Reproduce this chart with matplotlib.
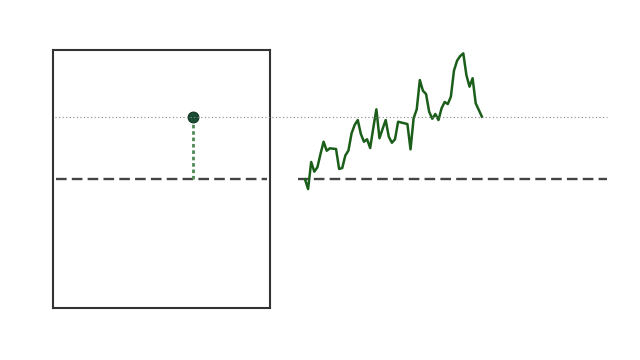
import matplotlib
matplotlib.use("Agg")
import matplotlib.pyplot as plt
from matplotlib.lines import Line2D
from matplotlib.transforms import blended_transform_factory

# Series values (percent change from baseline)
series_values = [
    -0.2, -7.8, 13.2, 5.7, 9.1, 19.4, 28.9, 21.9, 23.8, 23.5,
    23.3, 7.8, 8.5, 18.2, 22.1, 35.3, 41.9, 45.7, 34.9, 28.9,
    30.8, 24.0, 39.5, 54.0, 31.6, 38.8, 45.7, 32.8, 28.1, 30.8,
    44.4, 43.8, 43.2, 42.6, 23.0, 47.1, 54.0, 76.7, 68.4, 65.9,
    52.2, 46.7, 50.4, 45.7, 54.8, 59.7, 58.1, 63.8, 84.0, 91.7,
    95.3, 97.4, 80.6, 71.6, 78.1, 58.7, 53.5, 48.3,
]
time_index = list(range(len(series_values)))
baseline_value = [0.0]
point_x = [0.645]
point_value = [series_values[-1]]

fig = plt.figure(figsize=(6.4, 3.6), dpi=100)
fig.patch.set_facecolor("white")

ax_left = fig.add_axes([53 / 640, 52 / 360, 217 / 640, 258 / 360])
ax_right = fig.add_axes([298 / 640, 52 / 360, 309 / 640, 258 / 360], sharey=ax_left)

ylim = (-100, 100)
ax_left.set_ylim(*ylim)
ax_left.set_xlim(0, 1)

# Left panel
for sp in ax_left.spines.values():
    sp.set_color("#333333")
    sp.set_linewidth(1.5)
ax_left.set_xticks([])
ax_left.set_yticks([])
ax_left.axhline(baseline_value[0], xmin=3 / 217, xmax=1 - 3 / 217,
                color="#444444", lw=1.7, dashes=(4.5, 2.2))
ax_left.plot([point_x[0], point_x[0]], [baseline_value[0], point_value[0]],
             color="#4f8a55", lw=2.0, dashes=(1.3, 1.0))
ax_left.scatter(point_x, point_value, s=60, color="#1b4d35",
                edgecolor="#123322", linewidth=0.8, zorder=5)

# Right panel
ax_right.axis("off")
ax_right.set_xlim(-2.25, 97.3)
ax_right.axhline(baseline_value[0], color="#444444", lw=1.7, dashes=(4.5, 2.2))
ax_right.plot(time_index, series_values, color="#1a5e1a", lw=1.8)

# Dotted reference line at the final value, spanning both panels
trans = blended_transform_factory(fig.transFigure, ax_left.transData)
fig.add_artist(Line2D([55 / 640, 607 / 640], [point_value[0], point_value[0]],
                      transform=trans, color="#888888", lw=0.8,
                      linestyle=(0, (1, 2.2)), zorder=1))

fig.savefig("out.png", dpi=100, facecolor="white")
